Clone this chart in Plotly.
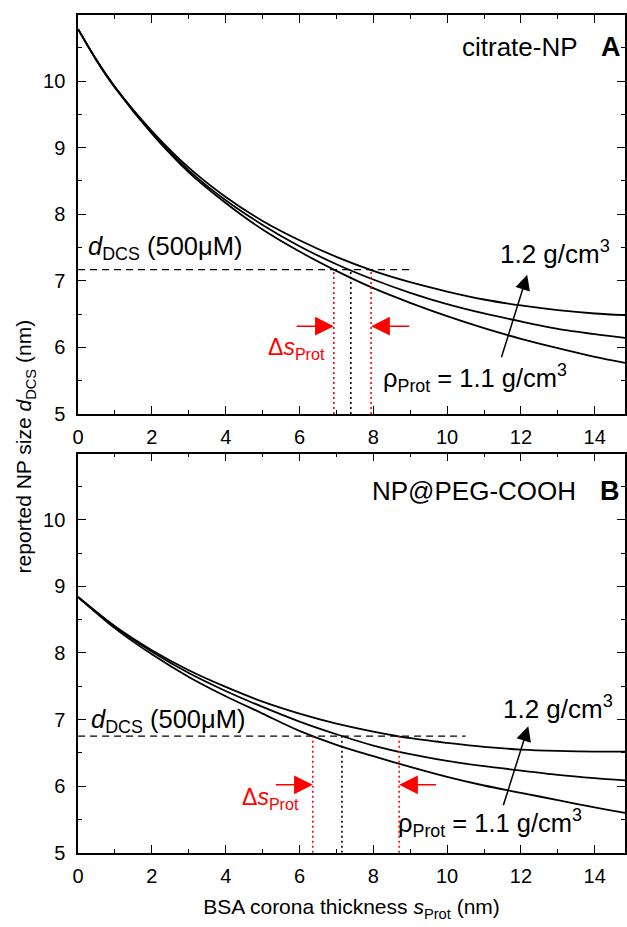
import plotly.graph_objects as go

# ---------------- data ----------------
# Panel A: citrate-NP
s_A = [0, 0.5, 1, 2, 3, 4, 5, 6, 7, 8, 9, 10, 11, 12, 13, 14, 15]
A_rho_110 = [10.78, 10.31, 9.90, 9.21, 8.63, 8.17, 7.77, 7.44, 7.15, 6.89, 6.67, 6.47, 6.29, 6.13, 5.99, 5.86, 5.75]
A_rho_115 = [10.78, 10.31, 9.91, 9.23, 8.66, 8.21, 7.84, 7.52, 7.25, 7.02, 6.82, 6.65, 6.51, 6.39, 6.28, 6.20, 6.13]
A_rho_120 = [10.78, 10.32, 9.91, 9.25, 8.70, 8.26, 7.90, 7.61, 7.36, 7.15, 6.98, 6.84, 6.72, 6.63, 6.56, 6.51, 6.48]
dcs_A = 7.17
cross_A = [6.93, 7.39, 7.94]
dash_end_A = 9.0

# Panel B: NP@PEG-COOH
s_B = [0, 1, 2, 3, 4, 5, 6, 7, 8, 9, 10, 11, 12, 13, 14, 15]
B_rho_110 = [8.84, 8.37, 7.98, 7.64, 7.35, 7.09, 6.83, 6.62, 6.45, 6.29, 6.14, 6.01, 5.90, 5.79, 5.68, 5.58]
B_rho_115 = [8.84, 8.39, 8.02, 7.70, 7.43, 7.19, 6.97, 6.78, 6.61, 6.48, 6.38, 6.30, 6.235, 6.17, 6.12, 6.08]
B_rho_120 = [8.84, 8.40, 8.04, 7.74, 7.49, 7.27, 7.09, 6.94, 6.82, 6.72, 6.65, 6.59, 6.55, 6.53, 6.52, 6.52]
dcs_B = 6.75
cross_B = [6.36, 7.15, 8.70]
dash_end_B = 10.5

x_ticks = [0, 2, 4, 6, 8, 10, 12, 14]
y_ticks = [5, 6, 7, 8, 9, 10]

# ---------------- figure ----------------
W, H = 627, 927
FONT = "Liberation Sans, Arial, sans-serif"


def px(xp):
    return xp / W


def py(yp):
    return 1 - yp / H


fig = go.Figure()

panels = [
    ("x", "y", s_A, [A_rho_110, A_rho_115, A_rho_120], dcs_A, cross_A, dash_end_A),
    ("x2", "y2", s_B, [B_rho_110, B_rho_115, B_rho_120], dcs_B, cross_B, dash_end_B),
]

for xa, ya, s, curves, dcs, cross, dend in panels:
    for ys in curves:
        fig.add_trace(go.Scatter(x=s, y=ys, mode="lines", xaxis=xa, yaxis=ya,
                                 line=dict(color="black", width=1.8, shape="spline", smoothing=0.8),
                                 hoverinfo="skip", showlegend=False))
    fig.add_trace(go.Scatter(x=[0, dend], y=[dcs, dcs], mode="lines", xaxis=xa, yaxis=ya,
                             line=dict(color="black", width=1.3, dash="7px,5px"),
                             hoverinfo="skip", showlegend=False))
    for i, c in enumerate(cross):
        col = "black" if i == 1 else "#ff0000"
        fig.add_trace(go.Scatter(x=[c, c], y=[5, dcs], mode="lines", xaxis=xa, yaxis=ya,
                                 line=dict(color=col, width=1.6, dash="2px,3px"),
                                 hoverinfo="skip", showlegend=False))

axis_common = dict(
    showline=True, linecolor="black", linewidth=1.6, mirror="ticks",
    ticks="inside", ticklen=8, tickwidth=1.4, tickcolor="black",
    showgrid=False, zeroline=False,
    tickfont=dict(size=20, color="black", family=FONT),
)

x_dom = [73 / W, 1.0]
fig.update_layout(
    width=W, height=H,
    margin=dict(l=0, r=0, t=0, b=0),
    paper_bgcolor="white", plot_bgcolor="white",
    font=dict(family=FONT, color="black"),
    showlegend=False,
    xaxis=dict(axis_common, domain=x_dom, anchor="y", range=[0, 14.82], tickvals=x_ticks,
               ticklabelstandoff=4,
               minor=dict(ticks="inside", ticklen=4, tickwidth=1.2, tickcolor="black", dtick=1, tick0=0, showgrid=False)),
    yaxis=dict(axis_common, domain=[1 - 419 / H, 1 - 15 / H], anchor="x", range=[5, 10.995], tickvals=y_ticks,
               ticklabelstandoff=7,
               minor=dict(ticks="inside", ticklen=4, tickwidth=1.2, tickcolor="black", dtick=0.5, tick0=5, showgrid=False)),
    xaxis2=dict(axis_common, domain=x_dom, anchor="y2", range=[0, 14.82], tickvals=x_ticks,
                ticklabelstandoff=4,
                title=dict(text="BSA corona thickness <i>s</i><sub>Prot</sub> (nm)",
                           font=dict(size=21, color="black", family=FONT), standoff=14),
                minor=dict(ticks="inside", ticklen=4, tickwidth=1.2, tickcolor="black", dtick=1, tick0=0, showgrid=False)),
    yaxis2=dict(axis_common, domain=[1 - 863 / H, 1 - 459 / H], anchor="x2", range=[5, 10.995], tickvals=y_ticks,
                ticklabelstandoff=7,
                minor=dict(ticks="inside", ticklen=4, tickwidth=1.2, tickcolor="black", dtick=0.5, tick0=5, showgrid=False)),
)

ann = []


def txt(x, y, text, size, color="black", xanchor="center", yanchor="middle", angle=0):
    ann.append(dict(x=x, y=y, xref="paper", yref="paper", text=text, showarrow=False,
                    xanchor=xanchor, yanchor=yanchor, textangle=angle,
                    font=dict(size=size, color=color, family=FONT)))


# y axis title (spans both panels)
txt(px(19), py(452), "reported NP size <i>d</i><sub>DCS</sub> (nm)", 21, angle=-90)

# panel labels
txt(px(521), py(48), "citrate-NP", 26)
txt(px(613), py(48), "<b>A</b>", 27)
txt(px(474), py(497), "NP@PEG-COOH", 26)
txt(px(612), py(497), "<b>B</b>", 27)

# d_DCS labels
txt(px(81), py(251), "<i>d</i><sub>DCS</sub> (500μM)", 25.5, xanchor="left")
txt(px(84), py(730), "<i>d</i><sub>DCS</sub> (500μM)", 25.5, xanchor="left")

# delta s labels
txt(px(325), py(353), "Δ<i>s</i><sub>Prot</sub>", 23, color="#ff0000", xanchor="right")
txt(px(299), py(808), "Δ<i>s</i><sub>Prot</sub>", 23, color="#ff0000", xanchor="right")

# density labels
txt(px(556), py(256), "1.2 g/cm<sup>3</sup>", 26)
txt(px(559), py(716), "1.2 g/cm<sup>3</sup>", 26)
txt(px(475), py(383), "ρ<sub>Prot</sub> = 1.1 g/cm<sup>3</sup>", 25.5)
txt(px(490), py(833), "ρ<sub>Prot</sub> = 1.1 g/cm<sup>3</sup>", 25.5)

# arrows (head at x,y; tail at ax,ay)
arrow_y_A = 6.32
arrow_y_B = 6.02
red_tails_A = [5.88, 9.01]
red_tails_B = [5.32, 9.74]
for xa, ya, cross, tails, ay_ in [("x", "y", cross_A, red_tails_A, arrow_y_A),
                                   ("x2", "y2", cross_B, red_tails_B, arrow_y_B)]:
    for head, tail in [(cross[0], tails[0]), (cross[2], tails[1])]:
        ann.append(dict(x=head, y=ay_, xref=xa, yref=ya, ax=tail, ay=ay_, axref=xa, ayref=ya,
                        text="", showarrow=True, arrowhead=2, arrowsize=2.5, arrowwidth=1.5,
                        arrowcolor="#ff0000", standoff=0))

black_arrows = [("x", "y", 12.17, 7.09, 11.46, 5.83), ("x2", "y2", 12.2, 6.90, 11.51, 5.69)]
for xa, ya, hx, hy, tx, ty in black_arrows:
    ann.append(dict(x=hx, y=hy, xref=xa, yref=ya, ax=tx, ay=ty, axref=xa, ayref=ya,
                    text="", showarrow=True, arrowhead=2, arrowsize=2.0, arrowwidth=1.5,
                    arrowcolor="black", standoff=0))

fig.update_layout(annotations=ann)
fig.write_html("out.html")
